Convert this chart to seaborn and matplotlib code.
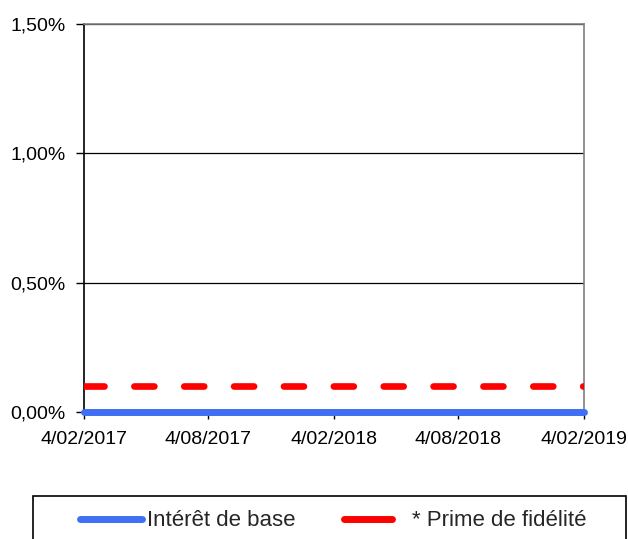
import numpy as np
import pandas as pd
import seaborn as sns
import matplotlib.pyplot as plt
from matplotlib.lines import Line2D

dates = pd.date_range("2017-02-04", "2019-02-04", freq="MS").tolist()
dates = [pd.Timestamp("2017-02-04")] + [d + pd.Timedelta(days=3) for d in dates] + [pd.Timestamp("2019-02-04")]
dates = sorted(set(dates))
base_rate = [0.0] * len(dates)          # Intérêt de base (%)
loyalty_rate = [0.10] * len(dates)      # * Prime de fidélité (%)
x_ticks = pd.to_datetime(["2017-02-04", "2017-08-04", "2018-02-04", "2018-08-04", "2019-02-04"])
y_ticks = [0.0, 0.5, 1.0, 1.5]

df = pd.DataFrame({"date": dates, "base": base_rate, "prime": loyalty_rate})

sns.set_theme(style="white")
plt.rcParams["font.family"] = ["Liberation Sans", "DejaVu Sans"]

fig = plt.figure(figsize=(6.28, 5.39), dpi=100)
ax = fig.add_axes([84 / 628, 1 - 412 / 539, 500 / 628, 388 / 539])

sns.lineplot(data=df, x="date", y="prime", ax=ax, color="#ff0000", linewidth=4.8,
             dashes=False, zorder=3)
ax.lines[-1].set_dashes((3.0, 4.48))
ax.lines[-1].set_dash_capstyle("round")
sns.lineplot(data=df, x="date", y="base", ax=ax, color="#3f6ff5", linewidth=5,
             clip_on=False, zorder=4)

ax.set_xlim(x_ticks[0], x_ticks[-1])
ax.set_ylim(0, 1.5)
ax.set_xticks(x_ticks)
ax.set_xticklabels([f"{d.day}/{d.month:02d}/{d.year}" for d in x_ticks])
ax.set_yticks(y_ticks)
ax.set_yticklabels([f"{v:.2f}%".replace(".", ",") for v in y_ticks])
ax.set_xlabel("")
ax.set_ylabel("")

ax.yaxis.grid(True, color="black", linewidth=0.9)
ax.tick_params(axis="both", labelsize=14, colors="black", width=1,
               direction="out", bottom=True, left=True)
ax.tick_params(axis="x", length=5, pad=9)
ax.tick_params(axis="y", length=6, pad=7)
for side in ["top", "right"]:
    ax.spines[side].set_color("#808080")
    ax.spines[side].set_linewidth(1.2)
ax.spines["left"].set_color("black")
ax.spines["left"].set_linewidth(1.2)
ax.spines["bottom"].set_color("black")

# legend box (cut off at the bottom like the original)
fig.patches.append(plt.Rectangle((33 / 628, -0.05), 593 / 628, 0.05 + 1 - 496 / 539,
                                 transform=fig.transFigure, fill=False,
                                 edgecolor="black", linewidth=1.2))
leg_y = 1 - 521 / 539
blue_handle = Line2D([], [], color="#3f6ff5", linewidth=5, solid_capstyle="round")
red_handle = Line2D([], [], color="#ff0000", linewidth=5, solid_capstyle="round")
fig.legend([blue_handle], ["Intérêt de base"], loc="center left",
           bbox_to_anchor=(79.5 / 628, leg_y), frameon=False, fontsize=16,
           handlelength=2.8, handletextpad=0.25, borderpad=0, borderaxespad=0)
fig.legend([red_handle], ["* Prime de fidélité"], loc="center left",
           bbox_to_anchor=(343.5 / 628, leg_y), frameon=False, fontsize=16,
           handlelength=2.16, handletextpad=0.9, borderpad=0, borderaxespad=0)

fig.savefig("out.png", dpi=100)
